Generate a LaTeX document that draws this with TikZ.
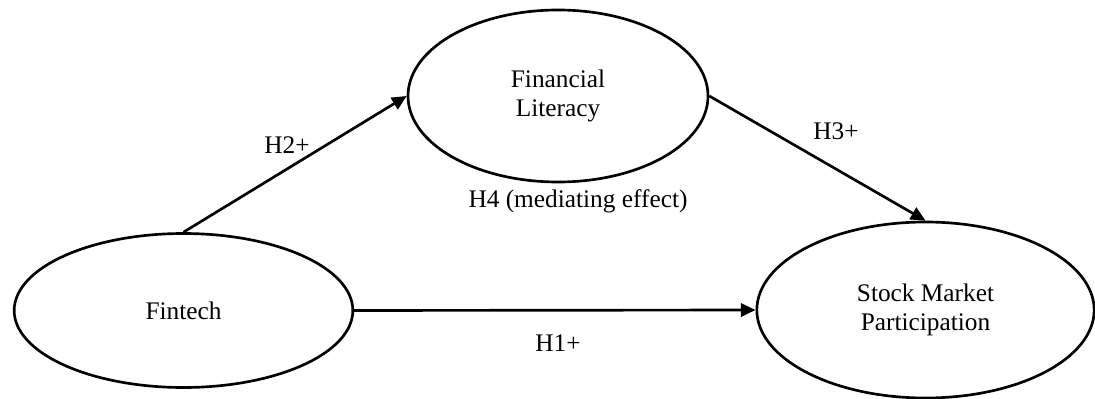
\documentclass[tikz,border=0pt]{standalone}
\usepackage{fontspec}
\setmainfont{Liberation Serif}
\usetikzlibrary{arrows.meta,shapes.geometric}

\begin{document}
\begin{tikzpicture}[x=0.75pt,y=-0.75pt,
  every node/.style={font=\fontsize{19}{22}\selectfont},
  construct/.style={draw,ellipse,line width=2pt,inner sep=0pt,align=center},
  hyp/.style={anchor=base,inner sep=0pt},
  link/.style={line width=2pt,-{Triangle[length=11pt,width=10pt]}}]
  \useasboundingbox (0,0) rectangle (1095,399);
  % constructs
  \node[construct,minimum width=254pt,minimum height=115.5pt] (fin) at (183.5,310.5) {Fintech};
  \node[construct,minimum width=225pt,minimum height=129pt] (lit) at (558,96) {Financial\\Literacy};
  \node[construct,minimum width=253pt,minimum height=132pt] (smp) at (925.5,310) {Stock Market\\Participation};
  % paths
  \draw[link] (fin.north) -- (lit.west);
  \draw[link] (lit.east) -- (smp.north);
  \draw[link] (fin.east) -- (smp.west);
  % hypotheses
  \node[hyp] (h1) at (558,351) {H1+};
  \node[hyp] (h2) at (287,154) {H2+};
  \node[hyp] (h3) at (836,140) {H3+};
  \node[hyp] (h4) at (578,207) {H4 (mediating effect)};
\end{tikzpicture}
\end{document}
